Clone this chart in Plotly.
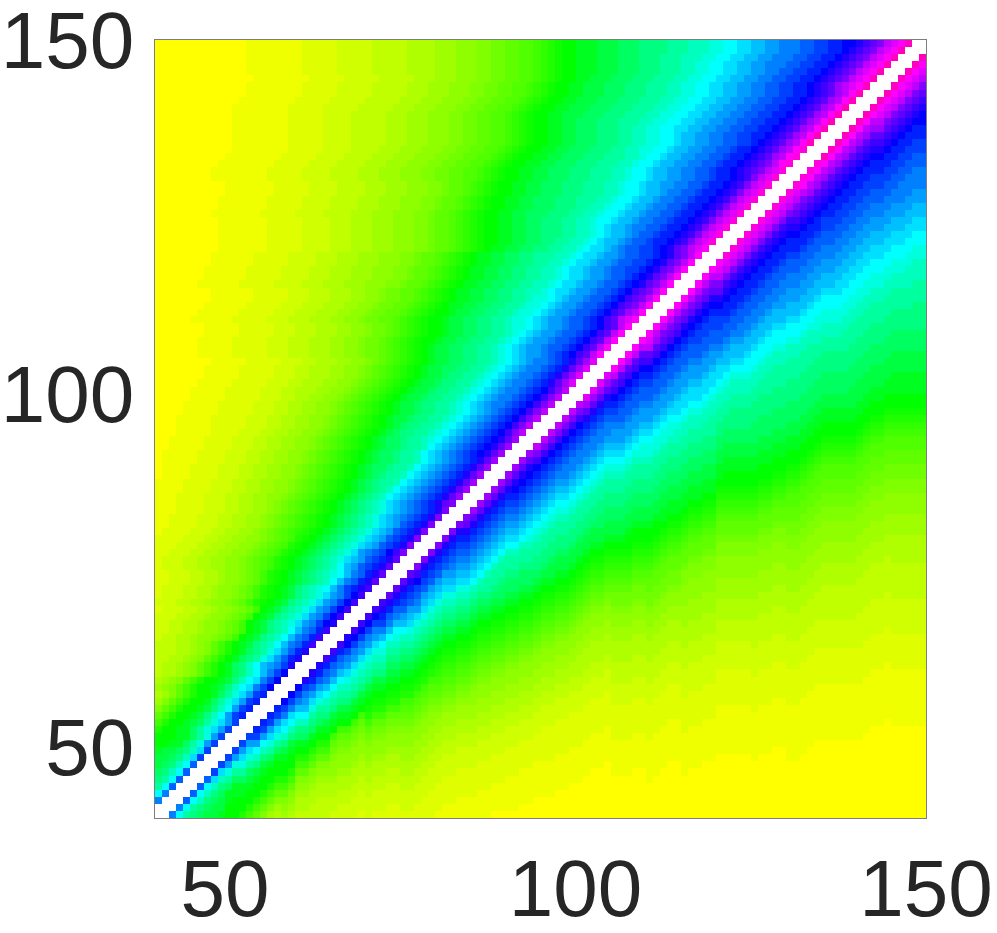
import plotly.graph_objects as go

# Cell levels. One character per cell:
# 0 yellow, 8 green, g cyan, o blue, w magenta, A-H are the half steps 0.5 ... 7.5.
WHOLE_LEVELS = "0123456789abcdefghijklmnopqrstuvwxyz"
HALF_LEVELS = "ABCDEFGH"
AXIS_START = 40
AXIS_END = 150
TICKS = [50, 100, 150]

# Far-from-diagonal part of the rows, one entry per 5 rows (y=149 downward)
FAR_PARTS = [
    "AAAAAAAA11111BBBBB22222CCCC333DDD44EE55FF6G7H",
    "AAAAAAAA11111BBBBB22222CCC333DDD44EE55FF6G7H",
    "AAAAAAAA11111BBBB22222CCC333DDD44EE55FF6G7H",
    "AAAAAAAA11111BBBB2222CCC333DDD44EE55FF6G7H",
    "AAAAAAA11111BBBB2222CCC333DDD44E55F6G7H",
    "AAAAAAA11111BBBB222CCC333DDD44E55F6G7H",
    "AAAAAA11111BBBB222CCC333DDD44E55F6G7H",
    "AAAAAA11111BBB222CCC33DD4EE55F6G7H",
    "AAAAA11111BBB222CCC33DD4EE5F6G7H",
    "AAAAA11111BBB22CCC33DD4E5F6G7H",
    "AAAAA11111BBB22CC33DD4E5F6G7H",
    "AAAAA1111BBB22CC33DD4E5F6G7H",
    "AAAA1111BBB22CC33DD4E5F6G7H",
    "AAAA1111BBB22CC33D4E5F6G7H",
    "AAAA1111BBB22CC33DD4E5F67H",
    "AAAA11111BBB22CC3DD4E567H",
    "AAAA1111BBB22CC3DD4E56",
    "AAA111BBB222CC3D4567",
]

# Near-diagonal part of rows y=149 ... y=60, ending next to the white band
NEAR_PARTS = [
    "88999aaabbbccccdddeeeffgghhiijjkkkllmmnnoopqrsuvwy",
    "88999aaabbbccccdddeeeffgghhiijjkkkllmmnnopqrsuvwy",
    "88999aaabbbcccdddeeeffgghhiijjkkkllmmnnopqrsuvwy",
    "88999aaabbbcccdddeeffgghhiijjkkkllmmnnopqrsuvwy",
    "88999aaabbbcccdddeeffgghhiijjkkllmmnnopqrsuvwy",
    "8899aaabbbcccdddeeffgghhiijjkkllmmnnopqrsuvwy",
    "8899aaabbbcccdddeeffgghhiijjkkllmmnnopqrtuvwy",
    "8899aaabbbcccdddeeffgghhiijjkkllmmnnopqrtuwy",
    "8899aaabbbcccdddeeffgghhiijjkkllmmnnopqrtuwy",
    "8899aaabbbcccdddeeffgghhiijjkkllmmnnopqrtuwy",
    "8899aaabbbcccdddeeffgghhiijjkkllmmnnopqrtuwy",
    "8899aabbbcccdddeeffgghhiijjkkllmmnnopqrtuwy",
    "8899aabbbcccddeeffgghhiijjkkllmmnnopqrtuwy",
    "8899aabbbcccddeeffgghiijjkkllmmnnopqrtuwy",
    "8899aabbbcccddeeffgghiijjkkllmmnopqrtuwy",
    "8899aabbbcccddeeffgghiijjkkllmnnopqrtuwx",
    "8899aabbbcccdddeefgghiijjkkllmnnopqrtuwx",
    "8899aabbbcccdddeefgghiijjkkllmnnopqrsuwx",
    "8899aabbbcccdddeefgghiijjkkllmnnopqrsuvx",
    "8899aabbbcccdddeefgghiijjkkllmnnopqsuvx",
    "8899aabbbcccdddeefgghiijjkkllmnnopqsuvx",
    "8899aabbbcccdddeefgghiijkkllmnnopqsuvx",
    "8899aabbbcccdddeefgghiijkkllmnnopqsuvx",
    "8899aabbbcccddeefgghiijkkllmnnopqsuvx",
    "8899aabbbcccddeefgghiijkkllmnnopqsuvx",
    "8899aabbcccddeefgghiijkkllmnnopqsuvx",
    "8899aabbcccddeefghiijkkllmnnopqsuvx",
    "8899aabbcccddeefghiijkllmnnopqsuvx",
    "8899aabbccddeefghiijkllmnnopqsuvx",
    "899aabbccddeefghhijkllmmnoprsuvw",
    "899aabbccdddeefghhijjkllmmnoprsuw",
    "899aabbccddeefghhijjkllmmnoprsuw",
    "899aabbccddeefghhijjkllmmnoprsuw",
    "899aabbccddeefghhijjkllmnoprsuw",
    "899aabbccddeefghhijjkllmnoprsuw",
    "899aabbccddeefghhijjkllmnoqrsuw",
    "899aabbccddeffghijjkllmnoqrsuw",
    "899aabbccddeffghijjkllmnoqrsuw",
    "889aabbccddeffghijjkllmnoqrtuw",
    "889aabbccddeffghijjkllmnoqruvw",
    "889aabbccddeffghijjkllmnoqruw",
    "889aabbccddefghijjkllmnoqruw",
    "889aabbccddefghijjkllmnoqruw",
    "89aabbccddefghijjkllmnoqruw",
    "89aabbccddefghijjklmnoqruw",
    "89aabbccddefghijkklmnprtv",
    "89aabbccddefghijkklmnprtv",
    "89aabccddefghijkklmnprtv",
    "89aabccddefghijkklmnprtv",
    "89aabccddefghijkklmnoqsu",
    "89aabccddefghijkklmnoqsu",
    "89aabccddefghijkklmnoqsu",
    "89aabccddefghijklmnoqsu",
    "89aabccddefghijklmnoqsu",
    "89abccddefghijklmnoqsu",
    "89abccddefghijklmnoqsu",
    "89abbcddefghijklmnoprt",
    "89abbcddeghijklmnoprt",
    "89abbcddeghijklmnoprt",
    "89abbcddeghijklmnprt",
    "89abbcddeghijklmnprt",
    "89abcddeghijklmnprt",
    "89abcddeghijklmnprt",
    "89abcdeghijklmnprt",
    "89abcdeghijklmnprt",
    "89abcdefhijklmnprs",
    "89abcdefhijklmnps",
    "89abcdefhijklmnps",
    "89abcdefhijlmnps",
    "89abcdefhijlmnps",
    "89abcdefhijlmnps",
    "89abcdefhijlmnps",
    "89abcdefhjklmoqs",
    "89abcdefhijlmnpr",
    "89abcdegijlmnpr",
    "89abcdefgiklnpr",
    "89abcdegiklnpr",
    "89acdefgikmnpq",
    "89acdefhjkmoq",
    "89acdefhjkmoq",
    "89acdefhjkmoq",
    "89acdefhjkmoq",
    "89acdefhjkmop",
    "89acdegiklnq",
    "89acdegiklnq",
    "89acdegiklnq",
    "89bcdfhjlnp",
    "89bcdfhjlnp",
    "89bcegijkmp",
    "89bcegikmo",
]

# Complete rows y=59 ... y=42
BOTTOM_ROWS = [
    "222CC3D4567889aceghkmo",
    "222CC3D4567889aceghkmo",
    "C34567889bdfhjmn",
    "34567889bdfhjmn",
    "4567889acegjmn",
    "567889acegjmn",
    "67889abdfhjm",
    "78899bdfhjm",
    "88899bdfjm",
    "8899bdfjm",
    "9aabcehm",
    "aabcehm",
    "abcegl",
    "bcegl",
    "cdgl",
    "dgl",
    "gk",
    "k",
]


def level_of(ch):
    if ch in HALF_LEVELS:
        return HALF_LEVELS.index(ch) + 0.5
    return WHOLE_LEVELS.index(ch)


rows_text = [FAR_PARTS[k // 5] + near for k, near in enumerate(NEAR_PARTS)] + BOTTOM_ROWS

size = AXIS_END - AXIS_START
matrix = [[None] * size for _ in range(size)]
for k, text in enumerate(rows_text):
    row = size - 1 - k
    count = row - 1
    text = text[-count:].rjust(count, "0")
    for col, ch in enumerate(text):
        level = level_of(ch)
        matrix[row][col] = level
        matrix[col][row] = level

colorscale = [
    [0.0, "#ffff00"],
    [0.2, "#00ff00"],
    [0.4, "#00ffff"],
    [0.6, "#0000ff"],
    [0.8, "#ff00ff"],
    [1.0, "#ff0000"],
]

fig = go.Figure(
    go.Heatmap(
        z=matrix,
        x0=AXIS_START + 0.5,
        dx=1,
        y0=AXIS_START + 0.5,
        dy=1,
        zmin=0,
        zmax=40,
        colorscale=colorscale,
        showscale=False,
        hoverongaps=False,
    )
)

axis_style = dict(
    range=[AXIS_START, AXIS_END],
    tickmode="array",
    tickvals=TICKS,
    ticktext=[str(t) for t in TICKS],
    ticks="",
    showgrid=False,
    zeroline=False,
    showline=True,
    mirror=True,
    linewidth=0.5,
    linecolor="rgba(38,38,38,0.6)",
    automargin=False,
    ticklabeloverflow="allow",
)

fig.update_xaxes(**axis_style, ticklabelstandoff=1)
fig.update_yaxes(**axis_style, ticklabelstandoff=4)
fig.update_layout(
    width=997,
    height=933,
    margin=dict(l=155, r=71, t=40, b=115, pad=0),
    paper_bgcolor="white",
    plot_bgcolor="white",
    font=dict(family="Liberation Sans", size=80, color="#262626"),
)
fig.write_html(
    "out.html",
    config={"displayModeBar": False},
    post_script="document.body.style.margin='0';",
)
